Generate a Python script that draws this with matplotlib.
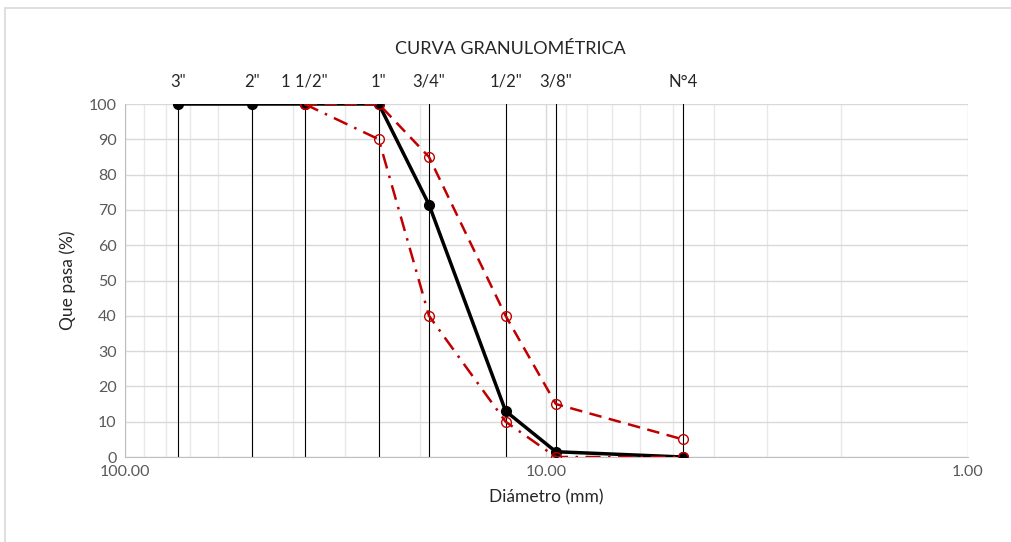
import numpy as np
import matplotlib.pyplot as plt
from matplotlib.patches import Rectangle

plt.rcParams['font.family'] = ['Lato', 'DejaVu Sans']

# datos del ensayo
tamices = ['3"', '2"', '1 1/2"', '1"', '3/4"', '1/2"', '3/8"', 'N°4']
diametros = [75.0, 50.0, 37.5, 25.0, 19.0, 12.5, 9.5, 4.75]
pasa = [100, 100, 100, 100, 71.5, 13, 1.5, 0]

# limites del huso
diam_lim = [37.5, 25.0, 19.0, 12.5, 9.5, 4.75]
lim_sup = [100, 100, 85, 40, 15, 5]
lim_inf = [100, 90, 40, 10, 0, 0]

fig = plt.figure(figsize=(10.11, 5.42), dpi=100)
ax = fig.add_axes([0.1236, 0.1568, 0.8339, 0.6513])

# marco del grafico
fig.patches.append(Rectangle((0.005, -0.05), 1.2, 1.035, transform=fig.transFigure,
                             fill=False, edgecolor='#d9d9d9', lw=1.2))

ax.set_xscale('log')
ax.set_xlim(100, 1)
ax.set_ylim(0, 100)
ax.set_yticks(np.arange(0, 101, 10))
ax.set_xticks([100, 10, 1])
ax.set_xticklabels(['100.00', '10.00', '1.00'])

ax.grid(True, which='major', color='#d9d9d9', lw=1)
ax.grid(True, which='minor', axis='x', color='#e8e8e8', lw=1)
ax.set_axisbelow(True)
for s in ['top', 'right']:
    ax.spines[s].set_visible(False)
for s in ['left', 'bottom']:
    ax.spines[s].set_color('#bfbfbf')
ax.tick_params(which='both', length=0, colors='#595959', labelsize=11.5, pad=6)

# lineas de tamices
for d, t in zip(diametros, tamices):
    ax.plot([d, d], [0, 100], color='black', lw=0.8, zorder=2)
    ax.text(d, 104, t, ha='center', va='bottom', fontsize=12, color='#262626')

ax.plot(diametros, pasa, color='black', lw=2.5, marker='o', ms=7, zorder=3)
ax.plot(diam_lim, lim_sup, color='#c00000', ls=(0, (5, 3)), lw=1.8,
        marker='o', mfc='none', mec='#c00000', ms=7, zorder=4)
ax.plot(diam_lim, lim_inf, color='#c00000', ls=(0, (6, 3, 1, 3)), lw=1.8,
        marker='o', mfc='none', mec='#c00000', ms=7, zorder=4)

fig.text(0.5045, 0.91, 'CURVA GRANULOMÉTRICA', ha='center', va='center',
         fontsize=13, color='#262626')
ax.set_xlabel('Diámetro (mm)', fontsize=12.5, color='#262626', labelpad=7)
ax.set_ylabel('Que pasa (%)', fontsize=12.5, color='#262626', labelpad=9)

fig.savefig('out.png', dpi=100)
